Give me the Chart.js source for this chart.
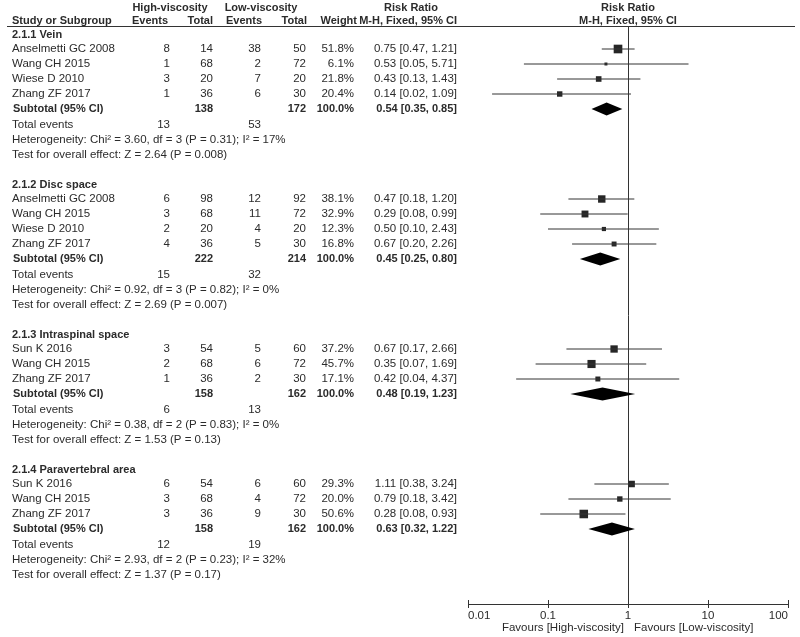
<!DOCTYPE html>
<html>
<head>
<meta charset="utf-8">
<script src="https://cdn.jsdelivr.net/npm/chart.js@4.4.1/dist/chart.umd.min.js"></script>
<style>
  html, body { margin: 0; padding: 0; background: #fff; }
</style>
</head>
<body>
<canvas id="forest" width="800" height="637"></canvas>
<script>
// subgroups
const groupNames = ['2.1.1 Vein', '2.1.2 Disc space', '2.1.3 Intraspinal space', '2.1.4 Paravertebral area'];

// studies (group index of each study)
const studyGroup = [0, 0, 0, 0, 1, 1, 1, 1, 2, 2, 2, 3, 3, 3];
const studyNames = ['Anselmetti GC 2008', 'Wang CH 2015', 'Wiese D 2010', 'Zhang ZF 2017',
                    'Anselmetti GC 2008', 'Wang CH 2015', 'Wiese D 2010', 'Zhang ZF 2017',
                    'Sun K 2016', 'Wang CH 2015', 'Zhang ZF 2017',
                    'Sun K 2016', 'Wang CH 2015', 'Zhang ZF 2017'];
const highEvents = [8, 1, 3, 1, 6, 3, 2, 4, 3, 2, 1, 6, 3, 3];
const highTotal  = [14, 68, 20, 36, 98, 68, 20, 36, 54, 68, 36, 54, 68, 36];
const lowEvents  = [38, 2, 7, 6, 12, 11, 4, 5, 5, 6, 2, 6, 4, 9];
const lowTotal   = [50, 72, 20, 30, 92, 72, 20, 30, 60, 72, 30, 60, 72, 30];
const weights    = [51.8, 6.1, 21.8, 20.4, 38.1, 32.9, 12.3, 16.8, 37.2, 45.7, 17.1, 29.3, 20.0, 50.6];
const riskRatio  = [0.75, 0.53, 0.43, 0.14, 0.47, 0.29, 0.50, 0.67, 0.67, 0.35, 0.42, 1.11, 0.79, 0.28];
const ciLow      = [0.47, 0.05, 0.13, 0.02, 0.18, 0.08, 0.10, 0.20, 0.17, 0.07, 0.04, 0.38, 0.18, 0.08];
const ciHigh     = [1.21, 5.71, 1.43, 1.09, 1.20, 0.99, 2.43, 2.26, 2.66, 1.69, 4.37, 3.24, 3.42, 0.93];

// subtotals
const subHighTotal = [138, 222, 158, 158];
const subLowTotal  = [172, 214, 162, 162];
const subRatio = [0.54, 0.45, 0.48, 0.63];
const subLow   = [0.35, 0.25, 0.19, 0.32];
const subHigh  = [0.85, 0.80, 1.23, 1.22];
const sumHighEvents = [13, 15, 6, 12];
const sumLowEvents  = [53, 32, 13, 19];
const chiSq = ['3.60', '0.92', '0.38', '2.93'];
const hetDf = [3, 3, 2, 2];
const hetP  = ['0.31', '0.82', '0.83', '0.23'];
const iSq   = [17, 0, 0, 32];
const zValue = ['2.64', '2.69', '1.53', '1.37'];
const zP     = ['0.008', '0.007', '0.13', '0.17'];

const axisTicks = [0.01, 0.1, 1, 10, 100];

var FONT = '"Liberation Sans", Arial, sans-serif';
var INK = '#2b2b2b';

// row numbers for every line of the table
var studyRow = [], headRow = [], subRow = [], sumRow = [];
var r = 0;
groupNames.forEach(function (g, gi) {
    headRow.push(r++);
    studyGroup.forEach(function (sg, i) { if (sg === gi) studyRow[i] = r++; });
    subRow.push(r++);
    sumRow.push(r);
    r += 4; // total events, heterogeneity, test, blank line
});

function ratioText(v, lo, hi) {
    return v.toFixed(2) + ' [' + lo.toFixed(2) + ', ' + hi.toFixed(2) + ']';
}

var datasets = [];
// confidence interval lines
studyNames.forEach(function (s, i) {
    datasets.push({
        data: [{x: ciLow[i], y: studyRow[i]}, {x: ciHigh[i], y: studyRow[i]}],
        showLine: true,
        borderColor: '#333',
        borderWidth: 1,
        pointRadius: 0
    });
});
// weighted squares
datasets.push({
    data: studyNames.map(function (s, i) { return {x: riskRatio[i], y: studyRow[i]}; }),
    pointStyle: 'rect',
    pointRadius: function (c) { return 0.85 * Math.sqrt(weights[c.dataIndex]); },
    backgroundColor: '#262626',
    borderWidth: 0
});

var forestTable = {
    id: 'forestTable',
    beforeDatasetsDraw: function (chart) {
        var c = chart.ctx, a = chart.chartArea, x = chart.scales.x;
        c.save();
        c.strokeStyle = '#333';
        c.lineWidth = 1;
        c.beginPath();
        c.moveTo(7, 26.5); c.lineTo(795, 26.5);
        var x1 = Math.round(x.getPixelForValue(1)) + 0.5;
        c.moveTo(x1, a.top); c.lineTo(x1, a.bottom);
        // upper half of the axis ticks
        x.ticks.forEach(function (t) {
            var px = Math.round(x.getPixelForValue(t.value)) + 0.5;
            c.moveTo(px, a.bottom - 4); c.lineTo(px, a.bottom);
        });
        c.stroke();
        c.restore();
    },
    afterDraw: function (chart) {
        var c = chart.ctx, x = chart.scales.x, y = chart.scales.y;
        function txt(s, px, py, align, bold) {
            c.font = (bold ? 'bold 11px ' : '11.5px ') + FONT;
            c.textAlign = align;
            c.fillText(s, px, py);
        }
        c.save();
        c.fillStyle = INK;
        c.textBaseline = 'middle';

        // column headers
        txt('High-viscosity', 170, 8, 'center', true);
        txt('Low-viscosity', 261, 8, 'center', true);
        txt('Risk Ratio', 411, 8, 'center', true);
        txt('Risk Ratio', x.getPixelForValue(1), 8, 'center', true);
        txt('Study or Subgroup', 12, 21, 'left', true);
        txt('Events', 168, 21, 'right', true);
        txt('Total', 213, 21, 'right', true);
        txt('Events', 262, 21, 'right', true);
        txt('Total', 307, 21, 'right', true);
        txt('Weight', 357, 21, 'right', true);
        txt('M-H, Fixed, 95% CI', 457, 21, 'right', true);
        txt('M-H, Fixed, 95% CI', x.getPixelForValue(1), 21, 'center', true);

        groupNames.forEach(function (g, gi) {
            txt(g, 12, y.getPixelForValue(headRow[gi]) + 1, 'left', true);
        });

        studyNames.forEach(function (s, i) {
            var py = y.getPixelForValue(studyRow[i]);
            txt(s, 12, py, 'left');
            txt(String(highEvents[i]), 170, py, 'right');
            txt(String(highTotal[i]), 213, py, 'right');
            txt(String(lowEvents[i]), 261, py, 'right');
            txt(String(lowTotal[i]), 306, py, 'right');
            txt(weights[i].toFixed(1) + '%', 354, py, 'right');
            txt(ratioText(riskRatio[i], ciLow[i], ciHigh[i]), 457, py, 'right');
        });

        groupNames.forEach(function (g, gi) {
            var py = y.getPixelForValue(subRow[gi]);
            txt('Subtotal (95% CI)', 13, py, 'left', true);
            txt(String(subHighTotal[gi]), 213, py, 'right', true);
            txt(String(subLowTotal[gi]), 306, py, 'right', true);
            txt('100.0%', 354, py, 'right', true);
            txt(ratioText(subRatio[gi], subLow[gi], subHigh[gi]), 457, py, 'right', true);

            var ty = y.getPixelForValue(sumRow[gi]) + 1;
            txt('Total events', 12, ty, 'left');
            txt(String(sumHighEvents[gi]), 170, ty, 'right');
            txt(String(sumLowEvents[gi]), 261, ty, 'right');
            txt('Heterogeneity: Chi\u00b2 = ' + chiSq[gi] + ', df = ' + hetDf[gi] + ' (P = ' + hetP[gi] +
                '); I\u00b2 = ' + iSq[gi] + '%', 12, y.getPixelForValue(sumRow[gi] + 1) + 1, 'left');
            txt('Test for overall effect: Z = ' + zValue[gi] + ' (P = ' + zP[gi] + ')', 12,
                y.getPixelForValue(sumRow[gi] + 2) + 1, 'left');

            // pooled diamond
            var xl = x.getPixelForValue(subLow[gi]), xc = x.getPixelForValue(subRatio[gi]),
                xr = x.getPixelForValue(subHigh[gi]);
            c.beginPath();
            c.moveTo(xl, py); c.lineTo(xc, py - 6.5); c.lineTo(xr, py); c.lineTo(xc, py + 6.5);
            c.closePath();
            c.fillStyle = '#000';
            c.fill();
            c.fillStyle = INK;
        });

        var x1 = x.getPixelForValue(1);
        txt('Favours [High-viscosity]', x1 - 4, 628, 'right');
        txt('Favours [Low-viscosity]', x1 + 6, 628, 'left');
        c.restore();
    }
};

var myChart = new Chart(document.getElementById('forest').getContext('2d'), {
    type: 'scatter',
    data: {datasets: datasets},
    options: {
        responsive: false,
        animation: false,
        layout: {padding: {left: 468, right: 12, top: 27, bottom: 0}},
        plugins: {legend: {display: false}, tooltip: {enabled: false}},
        scales: {
            x: {
                type: 'logarithmic',
                min: 0.01,
                max: 100,
                afterBuildTicks: function (s) { s.ticks = axisTicks.map(function (v) { return {value: v}; }); },
                afterFit: function (s) { s.height = 33; },
                ticks: {
                    align: 'inner',
                    padding: 1,
                    color: INK,
                    font: {family: FONT, size: 11.5},
                    callback: function (v) { return String(v); }
                },
                grid: {drawOnChartArea: false, drawTicks: true, tickLength: 4, color: '#333'},
                border: {display: true, color: '#333'}
            },
            y: {type: 'linear', reverse: true, min: -7 / 15, max: 38, display: false}
        }
    },
    plugins: [forestTable]
});
</script>
</body>
</html>
